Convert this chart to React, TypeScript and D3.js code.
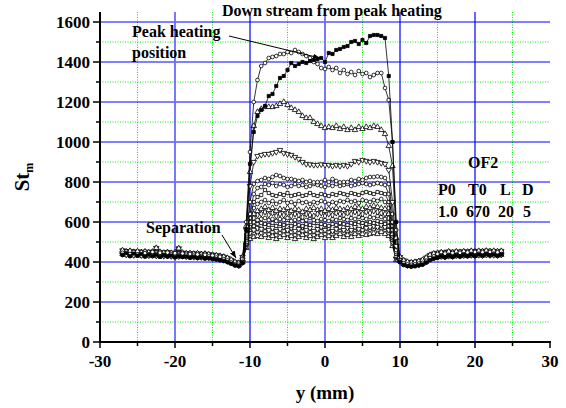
import React from 'react';
import * as d3 from 'd3';

// canvas
const W = 566;
const H = 408;
const plot = { left: 100, right: 550, top: 12, bottom: 342 };

// y positions (mm) of the samples
const leftX = [-27, -26.5, -26, -25.5, -25, -24.5, -24, -23.5, -23, -22.5, -22, -21.5, -21, -20.5, -20, -19.5, -19, -18.5, -18, -17.5, -17, -16.5, -16, -15.5, -15, -14.5, -14, -13.5, -13, -12.5, -12, -11.5, -11];
const centerX = [-10.5, -10, -9.5, -9, -8.5, -8, -7.5, -7, -6.5, -6, -5.5, -5, -4.5, -4, -3.5, -3, -2.5, -2, -1.5, -1, -0.5, 0, 0.5, 1, 1.5, 2, 2.5, 3, 3.5, 4, 4.5, 5, 5.5, 6, 6.5, 7, 7.5, 8, 8.5, 9, 9.5];
const rightX = [10, 10.5, 11, 11.5, 12, 12.5, 13, 13.5, 14, 14.5, 15, 15.5, 16, 16.5, 17, 17.5, 18, 18.5, 19, 19.5, 20, 20.5, 21, 21.5, 22, 22.5, 23, 23.5];

// upstream (separation) plateau, five groups of runs
const leftA = [450, 445, 448, 442, 446, 444, 440, 445, 442, 447, 441, 444, 440, 443, 438, 441, 437, 440, 436, 438, 434, 436, 432, 430, 428, 425, 422, 418, 412, 402, 394, 388, 410];
const leftB = [440, 436, 438, 434, 437, 433, 436, 432, 435, 431, 434, 430, 433, 429, 432, 428, 430, 427, 429, 425, 427, 424, 426, 422, 420, 417, 414, 410, 405, 396, 388, 384, 400];
const leftC = [458, 452, 455, 450, 453, 449, 452, 448, 451, 470, 450, 446, 449, 445, 447, 468, 446, 442, 444, 441, 443, 439, 441, 438, 436, 433, 430, 426, 420, 410, 400, 395, 425];
const leftD = [446, 452, 440, 450, 438, 448, 444, 436, 450, 440, 446, 436, 447, 438, 444, 434, 442, 436, 440, 432, 438, 430, 436, 428, 432, 422, 426, 414, 408, 398, 390, 386, 415];
const leftE = [436, 444, 430, 442, 432, 440, 428, 438, 430, 436, 426, 434, 428, 432, 424, 430, 426, 428, 422, 426, 420, 424, 418, 420, 416, 414, 410, 406, 400, 392, 384, 380, 395];
// downstream plateau
const rightA = [415, 398, 392, 390, 392, 395, 400, 412, 425, 432, 435, 438, 436, 440, 438, 442, 440, 443, 441, 444, 442, 445, 443, 446, 444, 445, 443, 446];
const rightB = [405, 390, 385, 383, 385, 388, 392, 402, 415, 422, 425, 428, 426, 430, 428, 432, 430, 433, 431, 434, 432, 435, 433, 436, 434, 435, 433, 436];
const rightC = [425, 408, 400, 398, 400, 404, 410, 422, 435, 442, 445, 448, 446, 452, 448, 452, 450, 453, 451, 455, 452, 455, 453, 456, 454, 455, 453, 455];
const rightD = [410, 395, 388, 386, 388, 392, 396, 406, 420, 428, 440, 432, 442, 434, 445, 436, 446, 438, 448, 440, 450, 442, 449, 441, 450, 442, 448, 440];
const rightE = [400, 386, 380, 378, 380, 384, 388, 398, 410, 418, 422, 430, 424, 432, 426, 434, 428, 436, 430, 437, 431, 438, 432, 440, 434, 438, 432, 438];

// heated region, one array per run (top to bottom)
const runA = [560, 890, 1050, 1130, 1160, 1180, 1230, 1240, 1280, 1320, 1330, 1360, 1395, 1380, 1390, 1400, 1395, 1405, 1410, 1415, 1420, 1400, 1445, 1440, 1460, 1465, 1475, 1480, 1500, 1505, 1490, 1510, 1495, 1530, 1535, 1535, 1530, 1520, 1330, 1000, 600];
const runB = [600, 950, 1200, 1310, 1380, 1395, 1420, 1425, 1430, 1440, 1440, 1450, 1445, 1460, 1450, 1440, 1430, 1420, 1400, 1390, 1370, 1365, 1375, 1360, 1370, 1345, 1360, 1340, 1350, 1335, 1355, 1340, 1345, 1325, 1335, 1345, 1345, 1270, 1210, 1000, 560];
const runC = [580, 850, 1080, 1150, 1165, 1175, 1175, 1175, 1180, 1190, 1200, 1185, 1170, 1160, 1150, 1130, 1120, 1120, 1100, 1090, 1080, 1070, 1075, 1070, 1080, 1065, 1075, 1060, 1070, 1060, 1075, 1065, 1075, 1070, 1080, 1075, 1060, 1040, 980, 880, 520];
const runD = [560, 780, 900, 930, 935, 940, 940, 945, 950, 960, 945, 940, 935, 925, 915, 900, 890, 888, 885, 885, 888, 885, 885, 880, 885, 880, 885, 880, 890, 905, 900, 910, 905, 900, 905, 900, 895, 890, 860, 700, 480];
const runE = [540, 700, 790, 805, 810, 820, 815, 825, 835, 830, 820, 815, 815, 810, 805, 810, 800, 805, 798, 800, 800, 810, 800, 815, 805, 798, 800, 800, 810, 805, 815, 810, 820, 825, 825, 828, 825, 820, 790, 640, 460];
const runF = [530, 640, 740, 770, 775, 790, 785, 795, 780, 790, 785, 775, 780, 790, 780, 785, 775, 780, 790, 785, 780, 775, 785, 780, 790, 780, 785, 790, 780, 785, 790, 795, 790, 785, 790, 795, 790, 785, 740, 600, 450];
const runG = [520, 620, 700, 725, 735, 760, 745, 735, 730, 740, 735, 745, 730, 735, 740, 730, 735, 745, 735, 730, 740, 735, 730, 740, 735, 745, 740, 735, 745, 740, 735, 745, 750, 745, 740, 750, 745, 740, 700, 580, 440];
const runH = [510, 600, 670, 690, 700, 710, 695, 705, 690, 700, 710, 695, 700, 690, 705, 695, 700, 690, 700, 695, 705, 700, 690, 700, 695, 705, 700, 710, 700, 705, 695, 710, 705, 700, 710, 705, 715, 700, 670, 560, 440];
const runI = [500, 590, 640, 655, 665, 675, 660, 670, 655, 665, 660, 670, 655, 665, 660, 650, 665, 660, 670, 660, 665, 655, 665, 660, 670, 665, 660, 670, 665, 675, 670, 665, 675, 670, 680, 675, 670, 665, 640, 540, 430];
const runJ = [495, 580, 620, 635, 640, 650, 635, 645, 630, 640, 635, 645, 630, 640, 635, 625, 640, 635, 630, 640, 645, 630, 640, 635, 645, 640, 635, 645, 640, 650, 645, 640, 650, 645, 655, 650, 645, 640, 620, 530, 430];
const runK = [490, 570, 600, 610, 615, 620, 610, 615, 605, 615, 610, 620, 605, 610, 615, 605, 610, 620, 610, 605, 615, 610, 605, 615, 610, 620, 615, 610, 620, 615, 625, 620, 615, 625, 620, 630, 625, 615, 600, 520, 425];
const runL = [485, 560, 580, 590, 595, 590, 585, 595, 580, 590, 585, 595, 580, 590, 585, 580, 590, 585, 595, 580, 590, 585, 580, 590, 585, 595, 590, 585, 595, 590, 600, 595, 590, 600, 595, 605, 600, 590, 580, 510, 420];
const runM = [480, 545, 560, 570, 565, 575, 560, 570, 555, 565, 575, 560, 570, 555, 565, 575, 560, 570, 555, 565, 575, 560, 570, 555, 565, 575, 560, 570, 560, 575, 565, 580, 570, 575, 580, 575, 585, 575, 560, 500, 415];
const runN = [475, 530, 545, 550, 545, 555, 540, 550, 535, 545, 555, 540, 550, 535, 545, 555, 540, 550, 535, 545, 555, 540, 550, 540, 550, 560, 545, 555, 545, 560, 550, 560, 555, 560, 565, 560, 570, 560, 545, 490, 415];
const runO = [470, 515, 525, 530, 525, 535, 520, 530, 515, 525, 535, 520, 530, 515, 525, 535, 520, 530, 515, 525, 535, 520, 530, 520, 530, 540, 525, 535, 525, 540, 530, 540, 535, 540, 545, 540, 550, 540, 530, 480, 410];

// bottom-most drawn first
const runs = [runO, runN, runM, runL, runK, runJ, runI, runH, runG, runF, runE, runD, runC, runB, runA];
const runSymbols = ['triangle', 'circle', 'triangleDown', 'square', 'circle', 'diamond', 'triangle', 'circle', 'square', 'circle', 'circle', 'triangleDown', 'triangle', 'circle', 'filledSquare'];
const lefts = [leftA, leftB, leftC, leftD, leftE];
const rights = [rightA, rightB, rightC, rightD, rightE];

const xTicks = [-30, -20, -10, 0, 10, 20, 30];
const xMinor = [-25, -15, -5, 5, 15, 25];
const yTicks = [0, 200, 400, 600, 800, 1000, 1200, 1400, 1600];
const yMinor = [100, 300, 500, 700, 900, 1100, 1300, 1500];

const x = d3.scaleLinear().domain([-30, 30]).range([plot.left, plot.right]);
const y = d3.scaleLinear().domain([0, 1650]).range([plot.bottom, plot.top]);

const font = "'Liberation Serif', 'Times New Roman', serif";

function symbolPath(name: string) {
  if (name === 'circle') return d3.symbol().type(d3.symbolCircle).size(11)()!;
  if (name === 'square' || name === 'filledSquare') return d3.symbol().type(d3.symbolSquare).size(10)()!;
  if (name === 'diamond') return d3.symbol().type(d3.symbolDiamond).size(11)()!;
  return d3.symbol().type(d3.symbolTriangle).size(13)()!;
}

export default function App() {
  const line = d3.line<[number, number]>().x(d => x(d[0])).y(d => y(d[1]));

  const series = runs.map((run, i) => {
    const xs = leftX.concat(centerX, rightX);
    const vs = lefts[i % 5].concat(run, rights[i % 5]);
    return xs.map((v, j) => [v, vs[j]] as [number, number]);
  });

  return (
    <svg width={W} height={H} style={{ position: 'absolute', left: 0, top: 0, background: '#fff' }}
      fontFamily={font} fontWeight="bold">
      <defs>
        <marker id="arr" viewBox="0 0 10 10" refX="10" refY="5" markerWidth="7" markerHeight="7" orient="auto-start-reverse" markerUnits="userSpaceOnUse">
          <path d="M0,1 L10,5 L0,9 z" fill="#000" />
        </marker>
      </defs>
      <rect width={W} height={H} fill="#fff" />

      {/* grid */}
      {yMinor.map(v => (
        <line key={'ym' + v} x1={plot.left} x2={plot.right} y1={y(v)} y2={y(v)} stroke="#00ee00" strokeWidth={1} strokeDasharray="1,1.5" />
      ))}
      {xMinor.map(v => (
        <line key={'xm' + v} x1={x(v)} x2={x(v)} y1={plot.top} y2={plot.bottom} stroke="#00ee00" strokeWidth={1} strokeDasharray="1,1.5" />
      ))}
      {yTicks.filter(v => v > 0).map(v => (
        <line key={'yg' + v} x1={plot.left} x2={plot.right} y1={y(v)} y2={y(v)} stroke="#0000ff" strokeWidth={1.2} />
      ))}
      {xTicks.filter(v => v > -30 && v < 30).map(v => (
        <line key={'xg' + v} x1={x(v)} x2={x(v)} y1={plot.top} y2={plot.bottom} stroke={v === -20 || v === 0 ? '#6a6aff' : '#0000ff'} strokeWidth={v === -20 || v === 0 ? 1.8 : 1.2} />
      ))}

      {/* runs */}
      {series.map((pts, i) => (
        <g key={'s' + i}>
          <path d={line(pts)!} fill="none" stroke="#000" strokeWidth={0.8} />
          {pts.map((p, j) => (
            <path key={j} d={symbolPath(runSymbols[i])}
              transform={`translate(${x(p[0])},${y(p[1])})${runSymbols[i] === 'triangleDown' ? ' rotate(180)' : ''}`}
              fill={runSymbols[i] === 'filledSquare' ? '#000' : '#fff'} stroke="#000" strokeWidth={0.8} />
          ))}
        </g>
      ))}

      {/* axes */}
      <line x1={plot.left} x2={plot.left} y1={plot.top} y2={plot.bottom + 1} stroke="#000" strokeWidth={2} />
      <line x1={plot.left - 1} x2={plot.right + 1} y1={plot.bottom} y2={plot.bottom} stroke="#000" strokeWidth={2} />
      {xTicks.map(v => (
        <g key={'xt' + v}>
          <line x1={x(v)} x2={x(v)} y1={plot.bottom} y2={plot.bottom + 6} stroke="#000" strokeWidth={1.5} />
          <text x={x(v)} y={367} textAnchor="middle" fontSize={17}>{v}</text>
        </g>
      ))}
      {xMinor.map(v => (
        <line key={'xmt' + v} x1={x(v)} x2={x(v)} y1={plot.bottom} y2={plot.bottom + 4} stroke="#000" strokeWidth={1.5} />
      ))}
      {yTicks.map(v => (
        <g key={'yt' + v}>
          <line x1={plot.left - 7} x2={plot.left} y1={y(v)} y2={y(v)} stroke="#000" strokeWidth={1.5} />
          <text x={90} y={y(v)} dy="0.36em" textAnchor="end" fontSize={17}>{v}</text>
        </g>
      ))}
      {yMinor.map(v => (
        <line key={'ymt' + v} x1={plot.left - 4} x2={plot.left} y1={y(v)} y2={y(v)} stroke="#000" strokeWidth={1.5} />
      ))}

      {/* axis titles */}
      <text x={325} y={399} textAnchor="middle" fontSize={19}>y (mm)</text>
      <text transform="translate(29,177) rotate(-90)" textAnchor="middle" fontSize={21}>
        St<tspan fontSize={12} dy={4}>m</tspan>
      </text>

      {/* annotations */}
      <text x={222} y={16} fontSize={16}>Down stream from peak heating</text>
      <text x={132} y={37} fontSize={16}>Peak heating</text>
      <text x={132} y={58} fontSize={16}>position</text>
      <line x1={229} y1={36} x2={320} y2={58} stroke="#000" strokeWidth={1} markerEnd="url(#arr)" />
      <text x={146} y={233} fontSize={16}>Separation</text>
      <line x1={222} y1={235} x2={236} y2={258} stroke="#000" strokeWidth={1} markerEnd="url(#arr)" />
      <text x={468} y={168} fontSize={16}>OF2</text>
      <text x={438} y={195} fontSize={16}>P0</text>
      <text x={468} y={195} fontSize={16}>T0</text>
      <text x={500} y={195} fontSize={16}>L</text>
      <text x={522} y={195} fontSize={16}>D</text>
      <text x={438} y={217} fontSize={16}>1.0</text>
      <text x={466} y={217} fontSize={16}>670</text>
      <text x={498} y={217} fontSize={16}>20</text>
      <text x={523} y={217} fontSize={16}>5</text>
    </svg>
  );
}
